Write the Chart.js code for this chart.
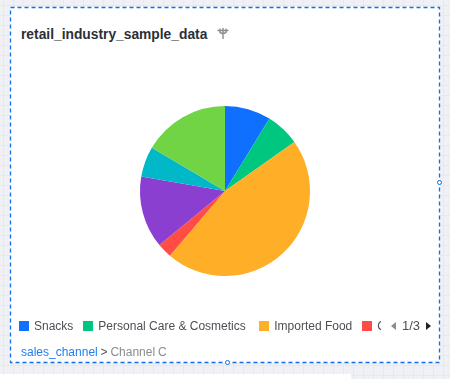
<!DOCTYPE html>
<html>
<head>
<meta charset="utf-8">
<script src="https://cdn.jsdelivr.net/npm/chart.js@4"></script>
<style>
  html, body { margin: 0; padding: 0; width: 450px; height: 379px; overflow: hidden; }
  body {
    position: relative;
    font-family: "Liberation Sans", Arial, sans-serif;
    background-color: #f0f1f5;
    background-image:
      linear-gradient(#e8e9ee 1px, transparent 1px),
      linear-gradient(90deg, #e8e9ee 1px, transparent 1px);
    background-size: 10px 10px;
    background-position: 3px 5px;
  }
  #card { position: absolute; left: 10px; top: 7px; width: 430px; height: 356px; background: #fff; }
  #frame { position: absolute; left: 0; top: 0; }
  #below { position: absolute; left: 0; top: 374px; width: 351px; height: 5px; background: #fff; }
  #title { position: absolute; left: 21px; top: 27px; font-size: 13.8px; font-weight: bold; color: #2b2f36; }
  #icon { position: absolute; left: 217px; top: 27px; }
  #wrap { position: absolute; left: 12px; top: 61px; width: 426px; height: 260px; }
  #legend { position: absolute; left: 19px; top: 318px; width: 362px; height: 16px; overflow: hidden; white-space: nowrap; font-size: 12px; color: #4d4f55; }
  #legend span.item { display: inline-block; margin-right: 10px; line-height: 16px; }
  #legend span.item:nth-child(2) { margin-right: 13.5px; }
  #legend i { display: inline-block; width: 10px; height: 10px; margin-right: 5px; vertical-align: -1px; }
  #pager { position: absolute; left: 402px; top: 318px; font-size: 13px; line-height: 16px; color: #4d4f55; }
  .arrow { position: absolute; top: 322px; width: 0; height: 0; border-top: 4px solid transparent; border-bottom: 4px solid transparent; }
  #crumb { position: absolute; left: 21px; top: 345px; font-size: 12px; word-spacing: -0.5px; color: #8a8c91; }
  #crumb b { font-weight: normal; color: #1f7ff0; }
  #crumb u { text-decoration: none; color: #4d4f55; }
  .handle { position: absolute; width: 3px; height: 3px; background: #fff; border: 1.5px solid #0f6fee; border-radius: 50%; }
</style>
</head>
<body>
<div id="below"></div>
<div id="card"></div>
<svg id="frame" width="450" height="379">
  <rect x="10.5" y="7.5" width="429" height="355" fill="none" stroke="#0f6fee" stroke-width="1.3" stroke-dasharray="4 3"></rect>
</svg>
<div id="title">retail_industry_sample_data</div>
<svg id="icon" width="12" height="13" viewBox="0 0 12 13">
  <path d="M0.5 3.5H11.5M3 1.5V5.5L6 7L9 5.5V1.5M6 1V12" fill="none" stroke="#8a8c91" stroke-width="1.4"></path>
</svg>
<div id="wrap"><canvas id="pieChart"></canvas></div>
<div id="legend"></div>
<div class="arrow" style="left:391px;border-right:5px solid #8a8c91"></div>
<div id="pager">1/3</div>
<div class="arrow" style="left:426px;border-left:5px solid #222"></div>
<div id="crumb"><b>sales_channel</b> <u>&gt;</u> Channel C</div>
<div class="handle" style="left:436.5px;top:179.5px"></div>
<div class="handle" style="left:224.5px;top:359.5px"></div>
<script>
// only the first three names and the "C" of the fourth are readable, the rest sit on later legend pages
const categories = ['Snacks', 'Personal Care & Cosmetics', 'Imported Food', 'C', 'Page 2 A', 'Page 2 B', 'Page 3 A'];
const shares = [8.75, 6.45, 46, 2.8, 13.7, 5.75, 16.5];
const colors = ['#0f6fff', '#00c77f', '#ffae28', '#ff4d45', '#8a3fd1', '#00b8c8', '#70d445'];
const legendCount = 4;

drawLegend();

function drawLegend() {
  const legend = document.getElementById('legend');
  categories.slice(0, legendCount).forEach(function (name, i) {
    const item = document.createElement('span');
    item.className = 'item';
    const box = document.createElement('i');
    box.style.background = colors[i];
    item.appendChild(box);
    item.appendChild(document.createTextNode(name));
    legend.appendChild(item);
  });
}

const ctx = document.getElementById('pieChart').getContext('2d');
const pieChart = new Chart(ctx, {
  type: 'pie',
  data: {
    labels: categories,
    datasets: [{
      data: shares,
      backgroundColor: colors,
      borderWidth: 0
    }]
  },
  options: {
    responsive: true,
    maintainAspectRatio: false,
    animation: false,
    radius: 85,
    plugins: {
      legend: { display: false },
      tooltip: { enabled: false }
    }
  }
});
</script>
</body>
</html>
